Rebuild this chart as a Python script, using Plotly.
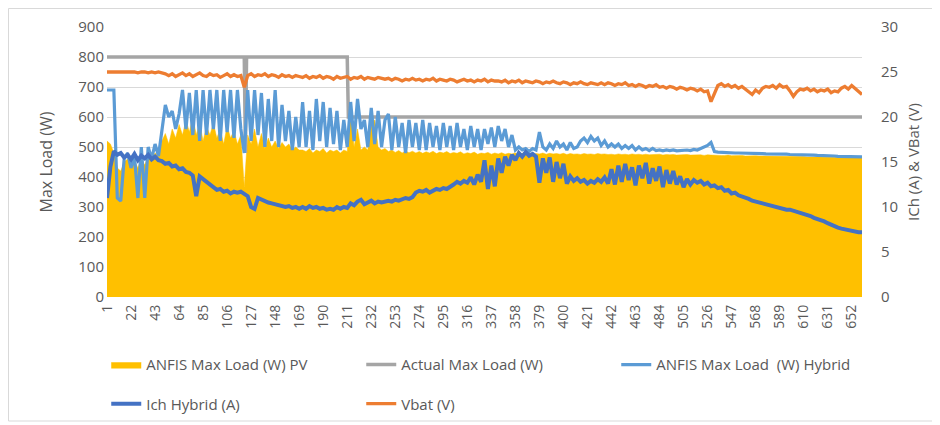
import plotly.graph_objects as go

# category positions sampled every 3rd record (records 1..661)
sample_idx = list(range(1, 662, 3))

tick_vals = list(range(1, 653, 21))
tick_text = [str(v) for v in tick_vals]

pv_load = [
    520, 510, 480, 430, 420, 450, 460, 440, 455, 430,
    460, 440, 470, 460, 480, 470, 520, 545, 510, 560,
    530, 575, 540, 590, 550, 600, 540, 580, 520, 570,
    540, 580, 530, 560, 510, 570, 530, 555, 510, 540,
    367, 540, 510, 560, 500, 545, 495, 530, 500, 520,
    495, 515, 500, 510, 490, 500, 490, 490, 485, 495,
    480, 490, 485, 495, 480, 490, 485, 490, 480, 490,
    485, 620, 500, 560, 490, 500, 490, 580, 590, 500,
    490, 495, 485, 490, 482, 488, 480, 487, 481, 486,
    480, 485, 479, 484, 480, 486, 478, 483, 480, 485,
    478, 482, 479, 484, 477, 481, 478, 483, 476, 480,
    478, 482, 476, 480, 477, 481, 476, 479, 477, 480,
    476, 479, 477, 480, 476, 478, 477, 480, 476, 479,
    477, 478, 476, 479, 475, 478, 476, 477, 475, 478,
    476, 477, 475, 478, 476, 477, 475, 476, 474, 477,
    475, 476, 474, 477, 475, 476, 474, 476, 474, 475,
    474, 476, 473, 475, 474, 475, 473, 474, 473, 475,
    473, 474, 473, 474, 472, 474, 473, 472, 473, 472,
    472, 473, 471, 472, 471, 472, 470, 471, 470, 471,
    470, 470, 469, 470, 469, 470, 469, 469, 468, 469,
    468, 468, 468, 468, 467, 468, 467, 467, 467, 466,
    466, 466, 466, 465, 466, 465, 465, 465, 465, 464,
    464,
]

hybrid_load = [
    690, 690, 690, 330, 320, 460, 480, 430, 470, 330,
    500, 330, 500, 460, 510, 470, 560, 640, 600, 620,
    560, 610, 690, 560, 680, 540, 690, 520, 690, 540,
    690, 560, 690, 520, 690, 550, 690, 530, 690, 560,
    480, 690, 520, 690, 540, 680, 500, 660, 520, 690,
    500, 640, 520, 620, 490, 600, 500, 650, 500, 620,
    490, 660, 520, 650, 500, 630, 510, 620, 490, 590,
    500, 650, 520, 660, 560, 590, 500, 630, 510, 620,
    500, 590, 610, 490, 600, 500, 580, 480, 590, 500,
    580, 490, 590, 490, 580, 500, 570, 490, 580, 500,
    570, 490, 580, 500, 560, 490, 570, 500, 560, 490,
    560, 510, 565, 500, 570, 520, 560, 500, 540, 490,
    500, 490, 495, 485, 495, 490, 550, 500, 490, 510,
    495, 520, 500, 510, 490, 515, 495, 500, 520, 530,
    515, 535, 520, 530, 505, 520, 500, 510, 500, 510,
    495, 505, 495, 505, 490, 500, 490, 495, 488, 495,
    488, 490, 487, 490, 488, 490, 487, 488, 487, 490,
    488, 492, 490, 495, 500, 505, 515, 485, 483, 482,
    482, 481, 481, 480, 480, 480, 480, 479, 479, 478,
    478, 478, 477, 477, 478, 477, 476, 476, 476, 475,
    475, 475, 474, 474, 474, 473, 473, 472, 472, 471,
    471, 470, 470, 469, 469, 469, 468, 468, 468, 467,
    467,
]

ich_hybrid = [
    11.0, 14.5, 16.2, 15.8, 16.0, 15.5, 15.8, 15.3, 15.9, 15.2,
    15.7, 15.4, 15.8, 15.3, 15.6, 15.2, 15.1, 14.8, 14.9, 14.5,
    14.6, 14.2, 14.3, 13.9, 13.8, 13.5, 11.2, 13.4, 13.1, 12.8,
    12.4, 12.2, 11.9, 12.0, 11.7, 11.8, 11.5, 11.7, 11.6, 11.7,
    11.5, 11.2, 10.0, 9.8, 11.0, 10.8, 10.7, 10.5, 10.4, 10.3,
    10.2, 10.1, 10.0, 10.1, 9.9, 10.0, 9.8, 10.0, 9.8, 10.1,
    9.9, 10.0, 9.8, 9.9, 9.7, 9.8, 9.7, 10.0, 9.8, 10.0,
    9.9, 10.4, 10.2, 10.6, 10.8, 10.3, 10.5, 10.7, 10.4, 10.6,
    10.5, 10.6, 10.7, 10.6, 10.8, 10.7, 10.8, 11.0, 10.9, 11.1,
    11.6, 11.8, 11.7, 11.9, 11.6, 11.8, 12.0, 11.9, 12.1, 12.0,
    12.2, 12.5, 12.8, 12.6, 12.9, 12.7, 13.3, 12.5, 13.6, 12.8,
    15.2, 12.0, 14.6, 12.3, 15.4, 13.8, 15.6, 14.6, 15.8, 15.2,
    16.0, 15.6, 16.1, 15.7, 15.9, 15.6, 12.7, 15.4, 13.8, 15.5,
    12.8, 15.0, 13.2, 14.8, 12.6, 13.4, 12.9, 13.2, 12.8, 13.0,
    12.6, 12.9, 12.7, 13.1, 12.8, 13.3, 12.6, 14.2, 12.5, 14.6,
    12.8, 14.8, 13.0, 14.4, 12.4, 14.6, 13.2, 14.9, 12.6, 14.3,
    12.9, 14.5, 12.2, 14.1, 12.6, 14.0, 12.5, 13.4, 12.2, 13.1,
    12.5, 13.0, 12.7, 12.9, 12.5, 12.7, 12.3, 12.4, 12.1, 12.2,
    11.8, 11.9, 11.5, 11.6, 11.3, 11.2, 11.0, 10.9, 10.7, 10.6,
    10.4, 10.3, 10.2, 10.1, 10.0, 10.0, 9.9, 9.8, 9.7, 9.7,
    9.6, 9.5, 9.4, 9.3, 9.1, 9.0, 8.8, 8.7, 8.5, 8.4,
    8.2, 8.0, 7.9, 7.7, 7.6, 7.5, 7.4, 7.3, 7.3, 7.2,
    7.2,
]

vbat = [
    25.0, 25.0, 25.0, 25.0, 25.0, 25.0, 25.0, 25.0, 25.0, 24.9,
    25.0, 25.0, 24.9, 25.0, 24.9, 25.0, 24.9, 24.8, 24.6, 24.8,
    24.5, 24.7, 24.9, 24.6, 24.8, 24.5, 24.7, 24.9, 24.6, 24.5,
    24.8, 24.6, 24.7, 24.4, 24.6, 24.8, 24.5, 24.7, 24.5, 24.6,
    23.3, 24.6, 24.8, 24.5, 24.7, 24.6, 24.8, 24.5, 24.7, 24.6,
    24.4, 24.7, 24.5, 24.6, 24.4, 24.6, 24.5, 24.4, 24.6, 24.3,
    24.5, 24.4, 24.6, 24.3, 24.5, 24.4, 24.2, 24.5, 24.3, 24.4,
    24.5, 24.2, 24.4, 24.3, 24.5, 24.2, 24.4, 24.3, 24.2, 24.4,
    24.3, 24.2, 24.3, 24.1, 24.3, 24.2, 24.0, 24.2, 24.1, 24.3,
    24.1, 24.2, 24.0, 24.2, 24.1, 24.3, 24.0, 24.2, 24.1, 24.0,
    24.2, 24.1, 23.9, 24.1, 24.2, 24.0, 24.1, 23.9, 24.1, 24.0,
    24.2, 23.9, 24.1, 24.0, 24.0, 23.9, 24.1, 23.8, 24.0, 23.9,
    24.1, 23.8, 24.0, 23.9, 23.8, 24.0, 23.9, 23.7, 23.9, 23.8,
    24.0, 23.8, 23.7, 23.9, 23.8, 23.6, 23.8, 23.7, 23.9, 23.7,
    23.6, 23.8, 23.7, 23.6, 23.8, 23.6, 23.8, 23.7, 23.5, 23.7,
    23.6, 23.8, 23.5, 23.6, 23.4, 23.6, 23.5, 23.3, 23.5, 23.4,
    23.6, 23.3, 23.4, 23.2, 23.4, 23.3, 23.1, 23.3, 23.2, 23.0,
    23.2, 23.1, 22.9, 23.1, 22.8, 22.9, 21.7, 22.6, 23.5, 23.7,
    23.4, 23.6, 23.3, 23.5, 23.2, 23.4, 23.1, 22.8, 22.5, 23.0,
    22.7, 23.2, 23.4, 23.3, 23.5, 23.2, 23.6, 23.3, 23.4, 22.9,
    22.3, 22.8, 23.1, 23.0, 23.2, 22.9, 23.1, 22.8, 23.0, 22.9,
    23.1, 22.7, 22.9, 22.8, 23.2, 23.4, 23.1, 23.5, 23.2, 22.8,
    22.5,
]

# Actual max load: step profile (record index -> W)
actual_idx = [1, 121, 122, 123, 211, 212, 661]
actual_load = [800, 800, 480, 800, 800, 600, 600]

n = len(sample_idx)
assert len(pv_load) == n, len(pv_load)
assert len(hybrid_load) == n, len(hybrid_load)
assert len(ich_hybrid) == n, len(ich_hybrid)
assert len(vbat) == n, len(vbat)

FONT = "Open Sans"
GREY_TXT = "#595959"

# page has an 8px body margin: figure px = page px - 8
L, T, PW, PH = 99, 19, 755, 270
W, H = 940, 425

fig = go.Figure()
fig.add_trace(go.Scatter(
    x=sample_idx, y=pv_load, name="ANFIS Max Load (W) PV",
    mode="lines", fill="tozeroy", fillcolor="#FFC000",
    line=dict(color="#FFC000", width=0.5), legend="legend"))
fig.add_trace(go.Scatter(
    x=actual_idx, y=actual_load, name="Actual Max Load (W)",
    mode="lines", line=dict(color="#A5A5A5", width=3.5), legend="legend"))
fig.add_trace(go.Scatter(
    x=sample_idx, y=hybrid_load, name="ANFIS Max Load  (W) Hybrid",
    mode="lines", line=dict(color="#5B9BD5", width=3.2), legend="legend"))
fig.add_trace(go.Scatter(
    x=sample_idx, y=ich_hybrid, name="Ich Hybrid (A)", yaxis="y2",
    mode="lines", line=dict(color="#4472C4", width=4), legend="legend2"))
fig.add_trace(go.Scatter(
    x=sample_idx, y=vbat, name="Vbat (V)", yaxis="y2",
    mode="lines", line=dict(color="#ED7D31", width=3.3), legend="legend2"))

# chart-area border
fig.add_shape(type="rect", xref="paper", yref="paper",
              x0=(0.5 - L) / PW, x1=(927 - L) / PW,
              y0=(T + PH - 413) / PH, y1=(T + PH - 0.5) / PH,
              line=dict(color="#D9D9D9", width=1), layer="below")

fig.update_layout(
    template="none",
    width=W, height=H,
    margin=dict(l=L, r=W - L - PW, t=T, b=H - T - PH, autoexpand=False),
    paper_bgcolor="white", plot_bgcolor="white",
    font=dict(family=FONT, color=GREY_TXT),
    xaxis=dict(range=[1, 661], tickvals=tick_vals, ticktext=tick_text,
               tickangle=-90, showgrid=False, zeroline=False, showline=False,
               ticks="", tickfont=dict(size=14, color=GREY_TXT),
               ticklabelstandoff=4),
    yaxis=dict(range=[0, 900], dtick=100, showgrid=True, gridcolor="#D9D9D9",
               gridwidth=1, zeroline=False, showline=False, ticks="",
               tickfont=dict(size=15, color=GREY_TXT), ticklabelstandoff=2,
               title=dict(text="Max Load (W)", font=dict(size=16, color=GREY_TXT),
                          standoff=21)),
    yaxis2=dict(range=[0, 30], dtick=5, overlaying="y", side="right",
                showgrid=False, zeroline=False, showline=False, ticks="",
                tickfont=dict(size=15, color=GREY_TXT), ticklabelstandoff=18,
                title=dict(text="ICh (A) &amp; VBat (V)",
                           font=dict(size=15, color=GREY_TXT), standoff=11)),
    legend=dict(orientation="h", x=-0.001, xanchor="left", y=-0.19, yanchor="top",
                entrywidth=210, font=dict(size=15, color=GREY_TXT),
                bgcolor="rgba(0,0,0,0)"),
    legend2=dict(orientation="h", x=-0.001, xanchor="left", y=-0.335, yanchor="top",
                 entrywidth=210, font=dict(size=15, color=GREY_TXT),
                 bgcolor="rgba(0,0,0,0)"),
    showlegend=True,
)

fig.write_html("out.html")
